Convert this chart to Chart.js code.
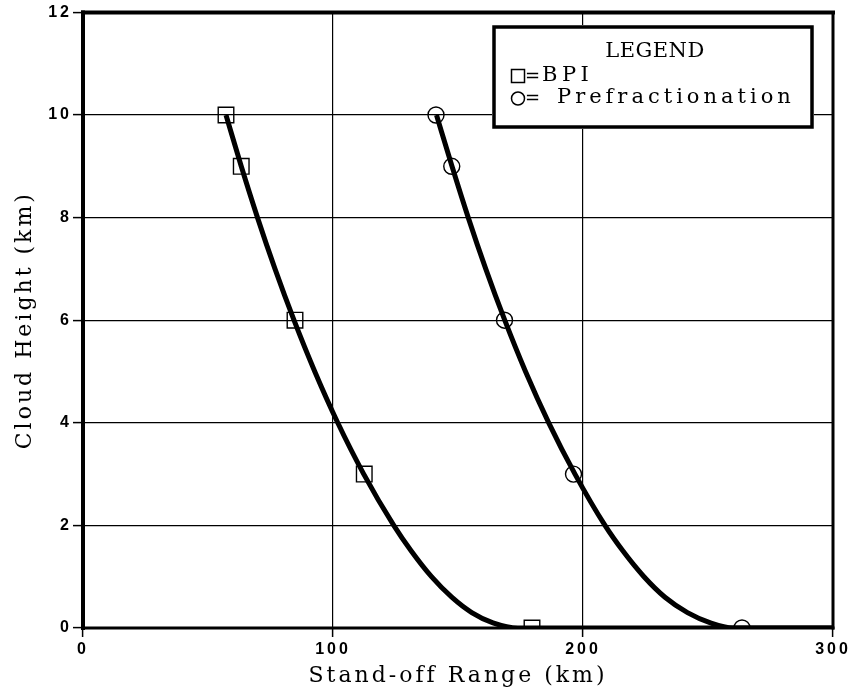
<!DOCTYPE html>
<html><head><meta charset="utf-8">
<script src="https://cdn.jsdelivr.net/npm/chart.js@4.4.0/dist/chart.umd.min.js"></script>
<style>html,body{margin:0;padding:0;background:#fff;} #wrap{width:852px;height:689px;position:relative;}</style>
</head><body><div id="wrap"><canvas id="c"></canvas></div>
<script>
// ---- data ----
const bpiRange = [57.2, 63.3, 84.8, 112.5, 179.6];
const bpiHeight = [10, 9, 6, 3, 0];
const preRange = [141.2, 147.5, 168.6, 196.2, 263.6];
const preHeight = [10, 9, 6, 3, 0];
// fitted curves
const bpiFitRange  = [57.2, 63.3, 69.8, 76.8, 84.4, 92.7, 101.9, 112.3, 124.3, 131.3, 139.4, 147.5, 155.5, 164.0, 174.0, 300];
const bpiFitHeight = [10, 9, 8, 7, 6, 5, 4, 3, 2, 1.5, 1, 0.6, 0.3, 0.1, 0, 0];
const preFitRange  = [141.4, 147.6, 154.1, 161.1, 168.7, 177.0, 186.3, 196.8, 208.8, 216.0, 224.4, 232.8, 241.8, 251.0, 260.0, 300];
const preFitHeight = [10, 9, 8, 7, 6, 5, 4, 3, 2, 1.5, 1, 0.6, 0.3, 0.1, 0, 0];
const xTicks = [0, 100, 200, 300];
const yTicks = [0, 2, 4, 6, 8, 10, 12];
const legendTitle = 'LEGEND';
const seriesNames = ['BPI', 'Prefractionation'];
const xTitle = 'Stand-off Range (km)';
const yTitle = 'Cloud Height (km)';

const pts = (xs, ys) => xs.map((x, i) => ({x: x, y: ys[i]}));

const spacingPlugin = {
  id: 'spacing',
  beforeDraw(chart) { chart.ctx.letterSpacing = '3px'; }
};

const framePlugin = {
  id: 'frame',
  beforeDatasetsDraw(chart) {
    const {ctx, chartArea: a} = chart;
    ctx.save();
    ctx.strokeStyle = '#000';
    ctx.lineCap = 'square';
    ctx.lineWidth = 4;
    ctx.beginPath(); ctx.moveTo(a.left, a.top); ctx.lineTo(a.left, a.bottom); ctx.stroke();
    ctx.beginPath(); ctx.moveTo(a.left, a.top); ctx.lineTo(a.right, a.top); ctx.stroke();
    ctx.lineWidth = 3;
    ctx.beginPath(); ctx.moveTo(a.left, a.bottom); ctx.lineTo(a.right, a.bottom); ctx.stroke();
    ctx.beginPath(); ctx.moveTo(a.right, a.top); ctx.lineTo(a.right, a.bottom); ctx.stroke();
    ctx.restore();
  }
};

const legendPlugin = {
  id: 'legendBox',
  afterDraw(chart) {
    const ctx = chart.ctx;
    ctx.save();
    const x0 = 494, y0 = 27, w = 318, h = 100;
    ctx.fillStyle = '#fff';
    ctx.fillRect(x0 - 2, y0 - 2, w + 4, h + 4);
    ctx.strokeStyle = '#000';
    ctx.lineWidth = 3.5;
    ctx.strokeRect(x0, y0, w, h);
    ctx.fillStyle = '#000';
    ctx.textBaseline = 'middle';
    ctx.font = '21px "DejaVu Serif"';
    ctx.textAlign = 'center';
    ctx.letterSpacing = '0.5px';
    ctx.fillText(legendTitle, 655, 52);
    ctx.textAlign = 'left';
    // square symbol
    ctx.lineWidth = 1.5;
    ctx.strokeRect(511.5, 69.5, 13, 13);
    // circle symbol
    ctx.beginPath(); ctx.arc(518, 98.5, 6.5, 0, Math.PI * 2); ctx.stroke();
    ctx.letterSpacing = '0px';
    ctx.font = '18px "DejaVu Serif"';
    ctx.fillText('=', 525, 77);
    ctx.fillText('=', 525, 99);
    ctx.font = '21px "DejaVu Serif"';
    ctx.letterSpacing = '4.5px';
    ctx.fillText(seriesNames[0], 542, 76);
    ctx.letterSpacing = '4px';
    ctx.fillText(seriesNames[1], 557, 98);
    ctx.restore();
  }
};

const chart = new Chart(document.getElementById('c'), {
  type: 'scatter',
  data: {
    datasets: [
      {label: 'BPI fit', data: pts(bpiFitRange, bpiFitHeight), showLine: true, borderColor: '#000', borderWidth: 5,
       pointRadius: 0, cubicInterpolationMode: 'monotone', fill: false},
      {label: 'Prefractionation fit', data: pts(preFitRange, preFitHeight), showLine: true, borderColor: '#000', borderWidth: 5,
       pointRadius: 0, cubicInterpolationMode: 'monotone', fill: false},
      {label: seriesNames[0], data: pts(bpiRange, bpiHeight), showLine: false, pointStyle: 'rect', pointRadius: 11,
       borderColor: '#000', borderWidth: 1.4, backgroundColor: 'rgba(0,0,0,0)'},
      {label: seriesNames[1], data: pts(preRange, preHeight), showLine: false, pointStyle: 'circle', pointRadius: 8,
       borderColor: '#000', borderWidth: 1.4, backgroundColor: 'rgba(0,0,0,0)'}
    ]
  },
  options: {
    responsive: true, maintainAspectRatio: false, animation: false,
    layout: {padding: {top: 9, right: 19, left: 0, bottom: 0}},
    plugins: {legend: {display: false}, tooltip: {enabled: false}},
    scales: {
      x: {
        type: 'linear', min: 0, max: 300,
        afterBuildTicks: s => { s.ticks = xTicks.map(v => ({value: v})); },
        afterFit: s => { s.height = 61; },
        grid: {color: '#000', lineWidth: 1.2, tickLength: 9, tickColor: '#000', tickWidth: 1.5},
        border: {display: false},
        ticks: {color: '#000', font: {family: '"Liberation Sans"', size: 16, weight: 'bold'}, padding: 3, maxRotation: 0},
        title: {display: true, text: xTitle, color: '#000', font: {family: '"DejaVu Serif"', size: 22}, padding: {top: 7, bottom: 0}}
      },
      y: {
        type: 'linear', min: 0, max: 12,
        afterBuildTicks: s => { s.ticks = yTicks.map(v => ({value: v})); },
        afterFit: s => { s.width = 83; },
        grid: {color: '#000', lineWidth: 1.2, tickLength: 10, tickColor: '#000', tickWidth: 1.5},
        border: {display: false},
        ticks: {color: '#000', font: {family: '"Liberation Sans"', size: 16, weight: 'bold'}, padding: 1},
        title: {display: true, text: yTitle, color: '#000', font: {family: '"DejaVu Serif"', size: 22}, padding: {top: 12, bottom: 0}}
      }
    }
  },
  plugins: [spacingPlugin, framePlugin, legendPlugin]
});
</script>
</body></html>
